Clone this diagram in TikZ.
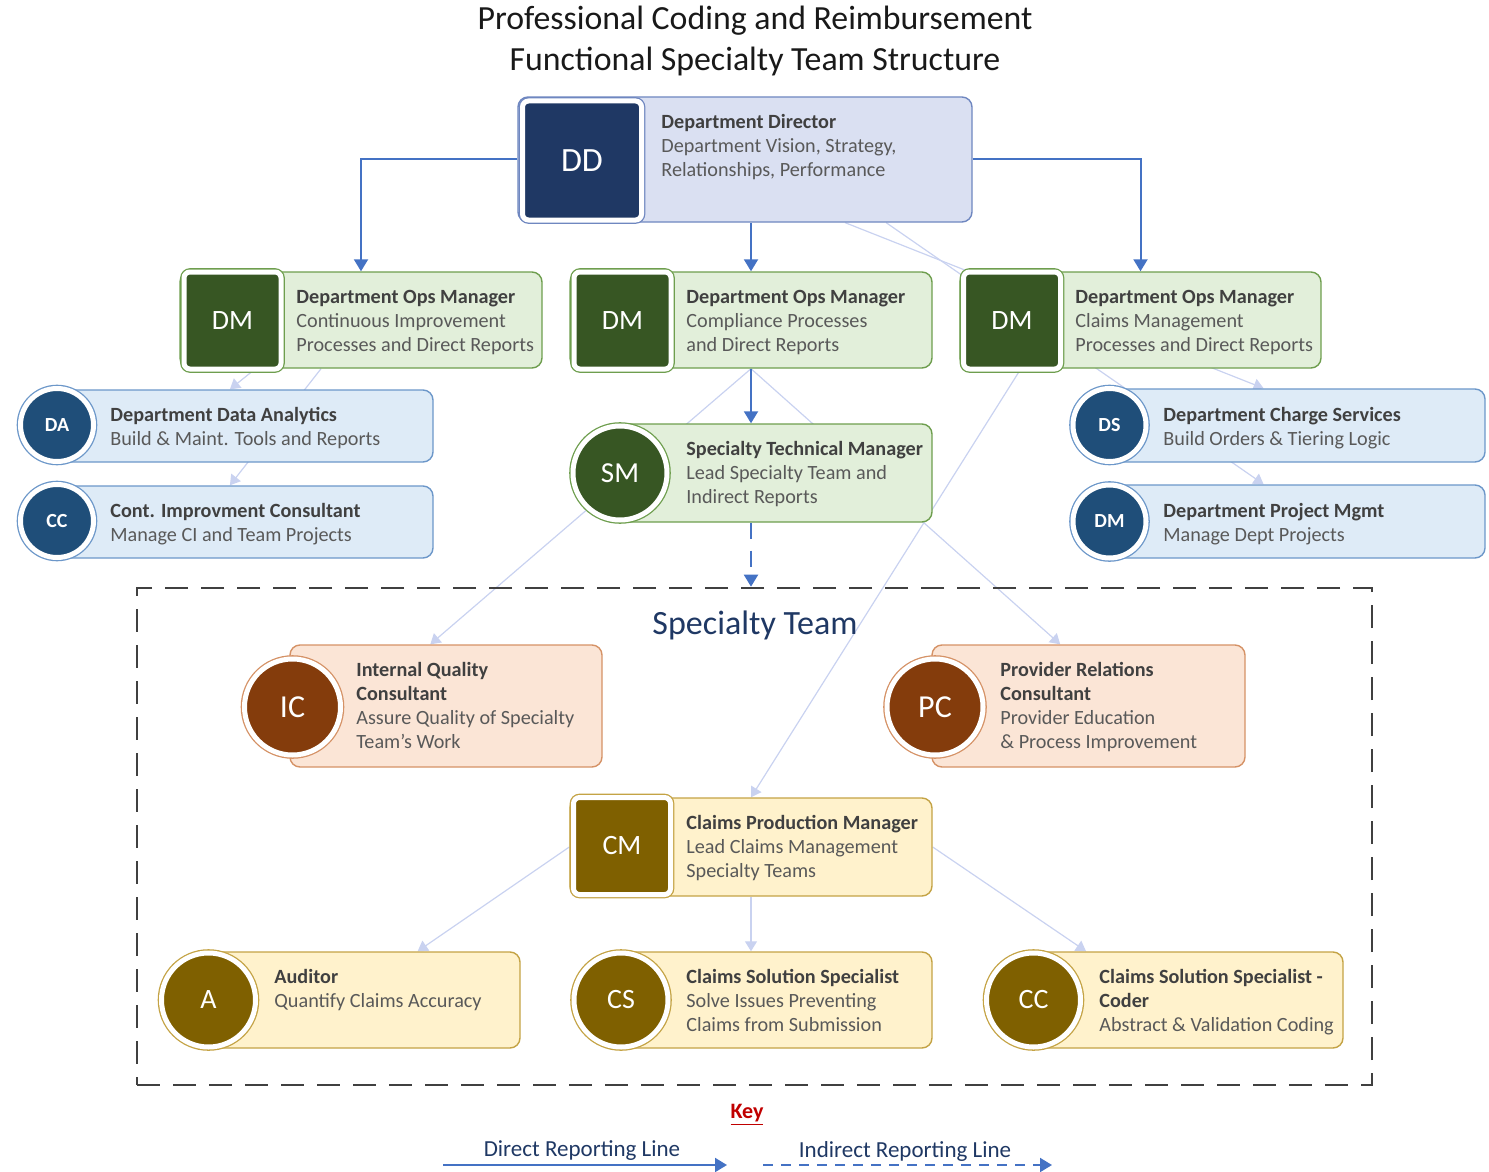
\documentclass[tikz,border=0pt]{standalone}
\usepackage{fontspec}
\setmainfont{Carlito}
\usetikzlibrary{arrows.meta,calc}
\pgfdeclarelayer{background}
\pgfsetlayers{background,main}
\definecolor{linkc}{HTML}{4472C4}
\definecolor{faintc}{HTML}{C9D2F0}
\definecolor{navyfill}{HTML}{DAE0F2}
\definecolor{navyline}{HTML}{6F87C0}
\definecolor{navydark}{HTML}{1F3864}
\definecolor{greenfill}{HTML}{E2EFDA}
\definecolor{greenline}{HTML}{6E9E4E}
\definecolor{greendark}{HTML}{375623}
\definecolor{bluefill}{HTML}{DEEBF7}
\definecolor{blueline}{HTML}{6C97C9}
\definecolor{bluedark}{HTML}{1F4E79}
\definecolor{orangefill}{HTML}{FBE5D6}
\definecolor{orangeline}{HTML}{D59266}
\definecolor{orangedark}{HTML}{843C0C}
\definecolor{goldfill}{HTML}{FFF2CC}
\definecolor{goldline}{HTML}{C4A345}
\definecolor{golddark}{HTML}{7F6000}
\definecolor{txtdark}{HTML}{404040}
\definecolor{txtgray}{HTML}{595959}
\definecolor{keyred}{HTML}{C00000}
\tikzset{
  card/.style={rounded corners=5pt, line width=0.7pt, inner sep=0pt},
  navycard/.style={card, fill=navyfill, draw=navyline},
  greencard/.style={card, fill=greenfill, draw=greenline},
  bluecard/.style={card, fill=bluefill, draw=blueline},
  orangecard/.style={card, fill=orangefill, draw=orangeline},
  goldcard/.style={card, fill=goldfill, draw=goldline},
  badge/.style={inner sep=0pt, draw=white, line width=2.5pt, text=white,
    preaction={draw=#1, line width=3.8pt}},
  sqbadge/.style={badge=#1, rectangle, rounded corners=3pt},
  rdbadge/.style={badge=#1, circle},
  info/.style={anchor=north west, inner sep=0pt, align=left, text=txtgray,
    font=\fontsize{10.1}{12}\selectfont, execute at begin node=\strut},
  head/.style={font=\fontsize{16.9}{19}\selectfont, text=black!90},
  direct/.style={draw=linkc, line width=1pt, -{Triangle[width=7pt,length=6pt]}},
  indirect/.style={direct, dash pattern=on 8pt off 6pt},
  faint/.style={draw=faintc, line width=0.6pt, -{Triangle[width=6pt,length=5pt]}},
  keytext/.style={font=\fontsize{11.5}{13}\selectfont, text=navydark},
}
\newcommand{\hd}[1]{{\color{txtdark}\bfseries #1}}

\begin{document}
\begin{tikzpicture}[x=0.5pt, y=-0.5pt]
\useasboundingbox (0,0) rectangle (1489,1172);
% title
\node[head] (t1) at (755,21) {Professional Coding and Reimbursement};
\node[head] (t2) at (755,61) {Functional Specialty Team Structure};

% director
\node[navycard, minimum width=227pt, minimum height=62.5pt] (dd) at (745,159.5) {};
\node[sqbadge=navyline, fill=navydark, minimum size=59.5pt, font=\fontsize{17}{20}\selectfont] (ddi) at (582,160.5) {DD};
\node[info] (ddt) at (661,114) {\hd{Department Director}\\Department Vision, Strategy,\\Relationships, Performance};

% ops managers
\node[greencard, minimum width=181pt, minimum height=48pt] (dm1) at (361,320) {};
\node[sqbadge=greenline, fill=greendark, minimum size=48.5pt, font=\fontsize{14}{16}\selectfont] (dm1i) at (232.5,320.5) {DM};
\node[info] (dm1t) at (296,290) {\hd{Department Ops Manager}\\Continuous Improvement\\Processes and Direct Reports};

\node[greencard, minimum width=181pt, minimum height=48pt] (dm2) at (751,320) {};
\node[sqbadge=greenline, fill=greendark, minimum size=48.5pt, font=\fontsize{14}{16}\selectfont] (dm2i) at (622.5,320.5) {DM};
\node[info] (dm2t) at (686,290) {\hd{Department Ops Manager}\\Compliance Processes\\and Direct Reports};

\node[greencard, minimum width=180.5pt, minimum height=48pt] (dm3) at (1140.5,320) {};
\node[sqbadge=greenline, fill=greendark, minimum size=48.5pt, font=\fontsize{14}{16}\selectfont] (dm3i) at (1012,320.5) {DM};
\node[info] (dm3t) at (1075,290) {\hd{Department Ops Manager}\\Claims Management\\Processes and Direct Reports};

% left support
\node[bluecard, minimum width=188pt, minimum height=36pt] (da) at (245,426) {};
\node[rdbadge=blueline, fill=bluedark, minimum size=36.5pt, font=\fontsize{10}{12}\selectfont\bfseries] (dai) at (57,425) {DA};
\node[info] (dat) at (110,407) {\hd{Department Data Analytics}\\Build \& Maint. Tools and Reports};

\node[bluecard, minimum width=188pt, minimum height=36pt] (cc) at (245,522) {};
\node[rdbadge=blueline, fill=bluedark, minimum size=36.5pt, font=\fontsize{10}{12}\selectfont\bfseries] (cci) at (57,521) {CC};
\node[info] (cct) at (110,503) {\hd{Cont. Improvment Consultant}\\Manage CI and Team Projects};

% right support
\node[bluecard, minimum width=187.5pt, minimum height=36.5pt] (ds) at (1297.5,425.5) {};
\node[rdbadge=blueline, fill=bluedark, minimum size=36.5pt, font=\fontsize{10}{12}\selectfont\bfseries] (dsi) at (1109.5,425) {DS};
\node[info] (dst) at (1163,407) {\hd{Department Charge Services}\\Build Orders \& Tiering Logic};

\node[bluecard, minimum width=187.5pt, minimum height=36.5pt] (dp) at (1297.5,521.5) {};
\node[rdbadge=blueline, fill=bluedark, minimum size=36.5pt, font=\fontsize{10}{12}\selectfont\bfseries] (dpi) at (1109.5,521.5) {DM};
\node[info] (dpt) at (1163,503) {\hd{Department Project Mgmt}\\Manage Dept Projects};

% specialty manager
\node[greencard, minimum width=156pt, minimum height=49pt] (sm) at (776,473) {};
\node[rdbadge=greenline, fill=greendark, minimum size=47pt, font=\fontsize{14.5}{16}\selectfont] (smi) at (620,473) {SM};
\node[info] (smt) at (686,441) {\hd{Specialty Technical Manager}\\Lead Specialty Team and\\Indirect Reports};

% specialty team
\node[draw=txtdark, line width=1.3pt, dash pattern=on 11.5pt off 6.5pt, minimum width=617.5pt, minimum height=248.5pt] (team) at (754.5,836.5) {};
\node[font=\fontsize{17}{20}\selectfont, text=navydark] (teamt) at (755,625) {Specialty Team};

\node[orangecard, minimum width=156pt, minimum height=61pt] (ic) at (446,706) {};
\node[rdbadge=orangeline, fill=orangedark, minimum size=48pt, font=\fontsize{16}{18}\selectfont] (ici) at (292.5,707) {IC};
\node[info] (ict) at (356,662) {\hd{Internal Quality}\\\hd{Consultant}\\Assure Quality of Specialty\\Team's Work};

\node[orangecard, minimum width=156.5pt, minimum height=61pt] (pc) at (1088.5,706) {};
\node[rdbadge=orangeline, fill=orangedark, minimum size=48pt, font=\fontsize{16}{18}\selectfont] (pci) at (935,707) {PC};
\node[info] (pct) at (1000,662) {\hd{Provider Relations}\\\hd{Consultant}\\Provider Education\\\& Process Improvement};

\node[goldcard, minimum width=181pt, minimum height=49pt] (cm) at (751,847) {};
\node[sqbadge=goldline, fill=golddark, minimum size=48.5pt, font=\fontsize{14}{16}\selectfont] (cmi) at (622,846) {CM};
\node[info] (cmt) at (686,815) {\hd{Claims Production Manager}\\Lead Claims Management\\Specialty Teams};

\node[goldcard, minimum width=155.5pt, minimum height=48pt] (au) at (364.5,1000) {};
\node[rdbadge=goldline, fill=golddark, minimum size=47pt, font=\fontsize{14}{16}\selectfont] (aui) at (208.5,1000) {A};
\node[info] (aut) at (274,969) {\hd{Auditor}\\Quantify Claims Accuracy};

\node[goldcard, minimum width=155.5pt, minimum height=48pt] (cs) at (776.5,1000) {};
\node[rdbadge=goldline, fill=golddark, minimum size=47pt, font=\fontsize{14}{16}\selectfont] (csi) at (621,1000) {CS};
\node[info] (cst) at (686,969) {\hd{Claims Solution Specialist}\\Solve Issues Preventing\\Claims from Submission};

\node[goldcard, minimum width=154.5pt, minimum height=48pt] (cd) at (1188.5,1000) {};
\node[rdbadge=goldline, fill=golddark, minimum size=47pt, font=\fontsize{14}{16}\selectfont] (cdi) at (1033.5,1000) {CC};
\node[info] (cdt) at (1099,969) {\hd{Claims Solution Specialist -}\\\hd{Coder}\\Abstract \& Validation Coding};

% direct and indirect lines
\draw[direct] (dd.west) -| (dm1.north);
\draw[direct] (dm2.north |- dd.south) -- (dm2.north);
\draw[direct] (dd.east) -| (dm3.north);
\draw[direct] (dm2.south) -- (dm2.south |- sm.north);
\draw[indirect] (dm2.south |- sm.south) -- (dm2.south |- team.north);

% faint lines behind the cards
\begin{pgfonlayer}{background}
\draw[faint] ($(dm1.south west)!0.21!(dm1.south east)$) -- ($(da.north west)!0.46!(da.north east)$);
\draw[faint] ($(dm1.south west)!0.39!(dm1.south east)$) -- ($(cc.north west)!0.46!(cc.north east)$);
\draw[faint] ($(dd.south west)!0.72!(dd.south east)$) -- ($(ds.north west)!0.41!(ds.north east)$);
\draw[faint] ($(dd.south west)!0.81!(dd.south east)$) -- ($(dp.north west)!0.41!(dp.north east)$);
\draw[faint] (dm2.south) -- ($(ic.north west)!0.45!(ic.north east)$);
\draw[faint] (dm2.south) -- ($(pc.north west)!0.41!(pc.north east)$);
\draw[faint] ($(dm3.south west)!0.17!(dm3.south east)$) -- (cm.north);
\draw[faint] (cm.west) -- ($(au.north west)!0.67!(au.north east)$);
\draw[faint] (cm.south) -- (cm.south |- cs.north);
\draw[faint] (cm.east) -- ($(cd.north west)!0.17!(cd.north east)$);
\end{pgfonlayer}

% key
\node[font=\fontsize{11}{13}\selectfont\bfseries, text=keyred] (key) at (747,1115) {\underline{Key}};
\coordinate (d0) at (443,1165);
\coordinate (d1) at (727,1165);
\draw[direct] (d0) -- (d1);
\node[keytext] (dlab) at (582,1151) {Direct Reporting Line};
\coordinate (i0) at (763,1165);
\coordinate (i1) at (1052,1165);
\draw[direct, dash pattern=on 5pt off 4pt] (i0) -- (i1);
\node[keytext] (ilab) at (905,1151) {Indirect Reporting Line};
\end{tikzpicture}
\end{document}
